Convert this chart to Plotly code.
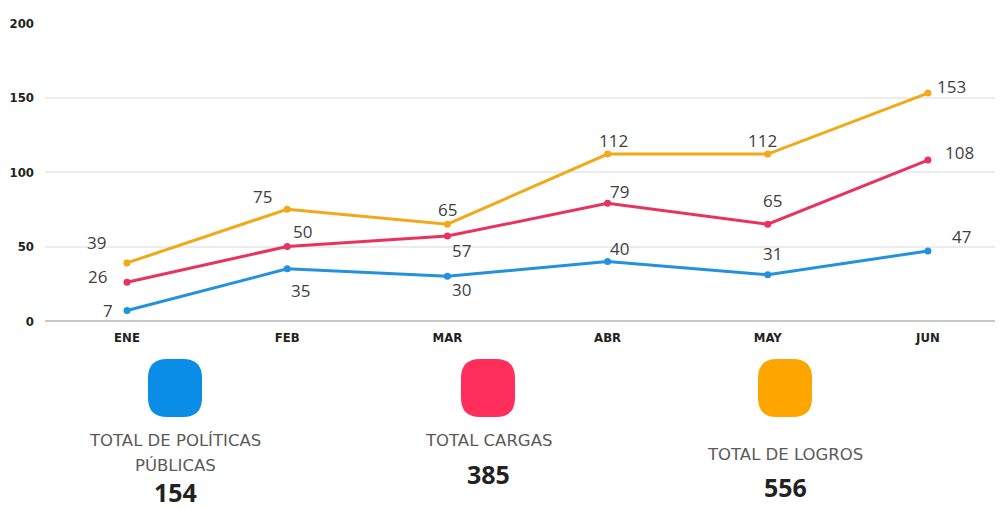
import plotly.graph_objects as go

# ---------------- data ----------------
months = ["ENE", "FEB", "MAR", "ABR", "MAY", "JUN"]
politicas = [7, 35, 30, 40, 31, 47]
cargas = [26, 50, 57, 79, 65, 108]
logros = [39, 75, 65, 112, 112, 153]
y_ticks = [0, 50, 100, 150, 200]
summary_titles = [["TOTAL DE POLÍTICAS", "PÚBLICAS"], ["TOTAL CARGAS"], ["TOTAL DE LOGROS"]]
summary_totals = [154, 385, 556]

# ---------------- styles ----------------
OFF = 8                      # default page body margin
W, H = 1003 - OFF, 508 - OFF
# plot area in page pixels: left 45, right 1000, top 23, bottom 321
ML, MR, MT = 45 - OFF, 3, 23 - OFF
MB = H - (321 - OFF)
line_colors = ["#2391dc", "#e8335e", "#f2a818"]
icon_colors = ["#0a8de6", "#ff2e5b", "#ffa500"]
label_font = dict(family="Open Sans, Lato, sans-serif", size=17, color="#404040")

# label offsets (dx, dy) in pixels, dy positive = downwards
offsets = [
    [(-19, 0), (13, 22), (14, 13), (12, -13), (5, -21), (34, -14)],
    [(-30, -6), (15, -15), (14, 14), (12, -12), (5, -24), (32, -8)],
    [(-31, -20), (-25, -13), (0, -15), (6, -14), (-5, -14), (24, -7)],
]

series = [politicas, cargas, logros]

fig = go.Figure()
for vals, col in zip(series, line_colors):
    fig.add_trace(go.Scatter(
        x=months, y=vals, mode="lines+markers",
        line=dict(color=col, width=3),
        marker=dict(color=col, size=7),
        hoverinfo="skip", showlegend=False,
    ))

annotations = []
for vals, offs in zip(series, offsets):
    for m, v, (dx, dy) in zip(months, vals, offs):
        annotations.append(dict(
            x=m, y=v, xref="x", yref="y", text=str(v), showarrow=False,
            xshift=dx, yshift=-dy, font=label_font,
            xanchor="center", yanchor="middle",
        ))

plot_w = W - ML - MR
plot_h = H - MT - MB


def px_x(px):
    return (px - OFF - ML) / plot_w


def px_y(py):
    return (H - MB - (py - OFF)) / plot_h


# summary block positions (page pixel centres)
icon_x = [175, 488, 785]
icon_y = 388
title_y = [[440, 465], [440], [454]]
total_y = [492, 474, 487]

shapes = []
w, h, r = 27, 29, 19
path = (f"M {-w + r},{-h} L {w - r},{-h} Q {w},{-h} {w},{-h + r} "
        f"L {w},{h - r} Q {w},{h} {w - r},{h} L {-w + r},{h} "
        f"Q {-w},{h} {-w},{h - r} L {-w},{-h + r} Q {-w},{-h} {-w + r},{-h} Z")
for cx, col in zip(icon_x, icon_colors):
    shapes.append(dict(
        type="path", xref="paper", yref="paper",
        xsizemode="pixel", ysizemode="pixel",
        xanchor=px_x(cx), yanchor=px_y(icon_y),
        path=path, fillcolor=col, line=dict(width=0), layer="above",
    ))

for cx, titles, tys, total, toty in zip(icon_x, summary_titles, title_y, summary_totals, total_y):
    for t, ty in zip(titles, tys):
        annotations.append(dict(
            x=px_x(cx), y=px_y(ty), xref="paper", yref="paper", text=t,
            showarrow=False, xanchor="center", yanchor="middle",
            font=dict(family="DejaVu Sans, sans-serif", size=16.5, color="#5a5a5a"),
        ))
    annotations.append(dict(
        x=px_x(cx), y=px_y(toty), xref="paper", yref="paper", text=f"<b>{total}</b>",
        showarrow=False, xanchor="center", yanchor="middle",
        font=dict(family="Open Sans, Lato, sans-serif", size=25, color="#222222"),
    ))

tick_font = dict(family="DejaVu Sans Condensed, Liberation Sans Narrow, sans-serif",
                 size=13, color="#222222", weight="bold")

fig.update_layout(
    width=W, height=H,
    margin=dict(l=ML, r=MR, t=MT, b=MB),
    paper_bgcolor="white", plot_bgcolor="white",
    xaxis=dict(
        range=[-0.512, 5.45], showgrid=False, zeroline=False,
        showline=False, tickfont=tick_font, ticklabelstandoff=7,
        fixedrange=True,
    ),
    yaxis=dict(
        range=[0, 200], tickvals=y_ticks, showgrid=True,
        gridcolor="#ececec", gridwidth=1.5, zeroline=True,
        zerolinecolor="#c8c8c8", zerolinewidth=2,
        showline=False, tickfont=tick_font, ticklabelstandoff=10,
        fixedrange=True,
    ),
    annotations=annotations,
    shapes=shapes,
)

fig.write_html("out.html")
